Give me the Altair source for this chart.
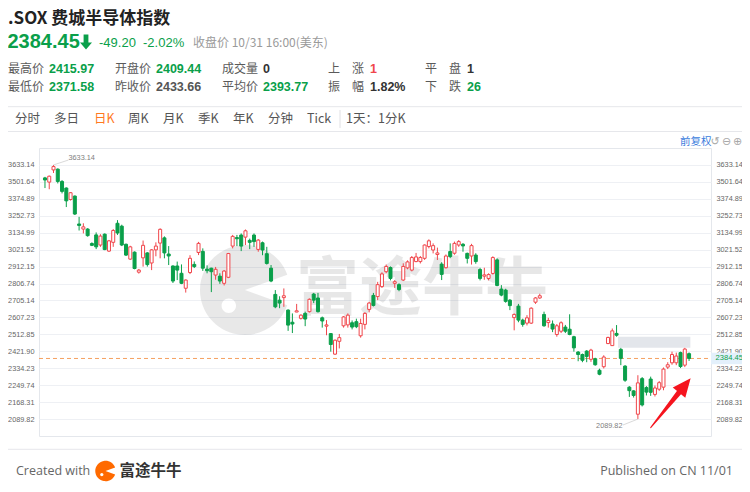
import math
import altair as alt
import pandas as pd

# ---------------- data ----------------
opens = [3532, 3500, 3594, 3600, 3505, 3455, 3370, 3395, 3195, 3160,
         3160, 3062, 3120, 3052, 3125, 3012, 3070, 3200, 3180, 3057,
         2960, 3005, 2877, 2968, 3000, 2935, 3020, 3065, 3100, 2993,
         2916, 2916, 2870, 2778, 2875, 2926, 3003, 3010, 2896, 2902,
         2859, 2852, 2808, 2845, 3045, 3102, 3119, 3105, 3083, 3119,
         3023, 3067, 2995, 2902, 2741, 2707, 2722, 2649, 2580, 2638,
         2602, 2630, 2640, 2743, 2720, 2605, 2558, 2517, 2407, 2475,
         2560, 2565, 2577, 2583, 2505, 2568, 2653, 2735, 2728, 2788,
         2880, 2906, 2808, 2800, 2828, 2904, 2890, 2944, 2944, 2965,
         3042, 3019, 2990, 2928, 2905, 3009, 2998, 3052, 3057, 2997,
         2980, 2986, 2894, 2852, 2838, 2869, 2955, 2773, 2767, 2707,
         2606, 2672, 2592, 2575, 2575, 2695, 2720, 2624, 2578, 2570,
         2512, 2530, 2553, 2541, 2500, 2418, 2405, 2423, 2380, 2383,
         2324, 2342, 2463, 2452, 2518, 2432, 2345, 2240, 2222, 2112,
         2282, 2238, 2280, 2205, 2230, 2240, 2340, 2362, 2362, 2415,
         2350, 2409.44]
highs = [3540, 3550, 3633.14, 3606, 3515, 3460, 3425, 3400, 3245, 3200,
         3166, 3070, 3137, 3125, 3130, 3086, 3160, 3222, 3190, 3062,
         3047, 3010, 2897, 3082, 3005, 3025, 3070, 3165, 3110, 3045,
         2920, 2944, 2926, 2832, 2985, 2945, 3073, 3030, 2920, 2905,
         2910, 2870, 2890, 3000, 3120, 3120, 3130, 3157, 3095, 3130,
         3092, 3075, 3040, 2922, 2767, 2730, 2777, 2653, 2630, 2685,
         2625, 2640, 2717, 2750, 2750, 2612, 2592, 2520, 2485, 2515,
         2615, 2630, 2590, 2600, 2600, 2637, 2697, 2750, 2817, 2876,
         2925, 2913, 2828, 2808, 2933, 2952, 2980, 3000, 2980, 3056,
         3090, 3063, 3035, 2940, 2990, 3063, 3075, 3085, 3065, 3002,
         3060, 2998, 2905, 2905, 2870, 2978, 2965, 2797, 2775, 2713,
         2630, 2685, 2600, 2620, 2665, 2725, 2745, 2640, 2605, 2590,
         2570, 2585, 2565, 2625, 2505, 2423, 2410, 2428, 2435, 2388,
         2332, 2401, 2500, 2545, 2564, 2440, 2350, 2245, 2225, 2299,
         2290, 2245, 2292, 2248, 2270, 2338, 2365, 2420, 2415, 2420,
         2440, 2415.97]
lows = [3455, 3446, 3570, 3490, 3415, 3315, 3362, 3258, 3150, 3130,
        3108, 3045, 3025, 3040, 3018, 3006, 3040, 3120, 3045, 2980,
        2955, 2895, 2868, 2912, 2912, 2890, 2978, 2965, 2965, 2922,
        2810, 2828, 2803, 2752, 2865, 2903, 2986, 2885, 2870, 2755,
        2830, 2805, 2795, 2840, 3030, 3045, 3012, 3052, 3025, 3040,
        3008, 2985, 2925, 2815, 2660, 2660, 2668, 2532, 2520, 2637,
        2595, 2558, 2635, 2690, 2635, 2550, 2508, 2420, 2403, 2437,
        2550, 2550, 2540, 2547, 2495, 2540, 2636, 2670, 2707, 2780,
        2870, 2826, 2780, 2760, 2822, 2895, 2882, 2940, 2932, 2955,
        3030, 2997, 2954, 2828, 2900, 2966, 2988, 3040, 3008, 2932,
        2925, 2930, 2826, 2830, 2826, 2862, 2790, 2730, 2692, 2649,
        2535, 2580, 2555, 2562, 2570, 2685, 2715, 2555, 2550, 2525,
        2500, 2520, 2520, 2508, 2420, 2370, 2365, 2365, 2367, 2347,
        2299, 2333, 2460, 2450, 2500, 2350, 2266, 2193, 2190, 2089.82,
        2148, 2200, 2198, 2195, 2222, 2225, 2330, 2352, 2350, 2335,
        2340, 2371.58]
closes = [3516, 3545, 3620, 3505, 3430, 3360, 3420, 3265, 3185, 3175,
          3115, 3050, 3040, 3112, 3022, 3080, 3150, 3133, 3052, 2986,
          3040, 2900, 2890, 3050, 2925, 3020, 3045, 3158, 3000, 2980,
          2822, 2890, 2808, 2828, 2965, 2912, 3063, 2902, 2886, 2880,
          2895, 2822, 2884, 2996, 3110, 3094, 3045, 3148, 3070, 3075,
          3085, 3019, 2932, 2822, 2668, 2690, 2733, 2564, 2570, 2645,
          2620, 2598, 2712, 2707, 2640, 2587, 2565, 2458, 2481, 2495,
          2610, 2620, 2553, 2555, 2573, 2630, 2690, 2676, 2800, 2866,
          2913, 2838, 2818, 2770, 2913, 2942, 2970, 2974, 2970, 3052,
          3080, 3048, 3000, 2863, 2980, 2976, 3063, 3075, 3046, 2965,
          3048, 2944, 2838, 2860, 2862, 2970, 2795, 2737, 2700, 2675,
          2624, 2592, 2568, 2605, 2660, 2720, 2733, 2560, 2590, 2542,
          2560, 2577, 2530, 2512, 2440, 2405, 2375, 2395, 2428, 2352,
          2304, 2392, 2496, 2532, 2508, 2385, 2274, 2223, 2200, 2261,
          2155, 2216, 2215, 2236, 2262, 2330, 2352, 2405, 2397, 2343,
          2433.66, 2384.45]

month_ticks = [5, 25, 46, 67, 87, 110, 131]
month_labels = ["2022/04", "5", "6", "7", "8", "9", "10"]
y_ticks = [3633.14, 3501.64, 3374.89, 3252.73, 3134.99, 3021.52, 2912.15, 2806.74,
           2705.14, 2607.23, 2512.85, 2421.90, 2334.23, 2249.74, 2168.31, 2089.82]

# quote header values
last_close = 2384.45
change = -49.20
change_pct = -2.02
day_high = 2415.97
day_open = 2409.44
volume = 0
advancers = 1
unchanged = 1
day_low = 2371.58
prev_close = 2433.66
avg_price = 2393.77
amplitude = 1.82
decliners = 26

gap_index = 134                 # unfilled gap after this candle
arrow_index = [142.0, 151.3]    # annotation arrow (tail, tip)
arrow_value = [2051.0, 2282.0]

# ---------------- styles ----------------
RED = "#f0464b"
GREEN = "#0a9f4a"
ORANGE = "#f5a060"
GRID = "#eef0f4"
AXIS_GRAY = "#666666"
CJK = "Noto Sans CJK SC"
NUMF = "Liberation Sans"
AXF = 7.3
OX, OY = 39, 148   # page position of the plot's top-left corner
W, H = 672, 288

n = len(closes)
candles = pd.DataFrame({"i": list(range(n)), "open": opens, "high": highs,
                        "low": lows, "close": closes})
dummy = pd.DataFrame({"k": [0]})

ratio = y_ticks[0] / y_ticks[1]
yscale = alt.Scale(type="log", domain=[y_ticks[-1] / ratio, y_ticks[0] * ratio],
                   nice=False, zero=False)
xscale = alt.Scale(domain=[-0.23, 154.97], nice=False, zero=False)

expr = "''"
for t, l in reversed(list(zip(month_ticks, month_labels))):
    expr = f"datum.value == {t} ? '{l}' : ({expr})"

xaxis = alt.Axis(values=month_ticks, labelExpr=expr, labelAlign="left", labelOffset=2,
                 labelPadding=3, labelFontSize=AXF, labelFont=NUMF, labelColor=AXIS_GRAY,
                 ticks=False, domain=False, grid=True, gridColor=GRID, labelFlush=False,
                 title=None)
yaxis_left = alt.Axis(values=y_ticks, format=".2f", orient="left", labelFontSize=AXF,
                      labelFont=NUMF, labelColor=AXIS_GRAY, ticks=False, domain=False,
                      grid=True, gridColor=GRID, labelPadding=5, title=None,
                      labelOverlap=False)
yaxis_right = alt.Axis(values=y_ticks, format=".2f", orient="right", labelFontSize=AXF,
                       labelFont=NUMF, labelColor=AXIS_GRAY, ticks=False, domain=False,
                       grid=False, labelPadding=5, title=None, labelOverlap=False)

up = "datum.close >= datum.open"


def X(field, axis=None):
    return alt.X(field, scale=xscale, axis=axis)


def Y(field, axis=None):
    return alt.Y(field, scale=yscale, axis=axis)


def txt(s, px, py, size=12, color="#555555", weight="normal", align="left",
        font=CJK, opacity=1.0):
    return alt.Chart(dummy).mark_text(
        text=s, align=align, baseline="middle", fontSize=size, color=color,
        fontWeight=weight, font=font, opacity=opacity
    ).encode(x=alt.value(px - OX), y=alt.value(py - OY))


def hline(py, x1=8, x2=742, color="#e6e7eb"):
    return alt.Chart(dummy).mark_rule(color=color, strokeWidth=1).encode(
        x=alt.value(x1 - OX), x2=alt.value(x2 - OX), y=alt.value(py - OY))


PACMAN = ("M0,0L0.94,-0.34A1,1,0,1,0,0.94,0.34Z"
          "M-0.52,0.35A0.16,0.16,0,1,1,-0.2,0.35A0.16,0.16,0,1,1,-0.52,0.35Z")

# ---------------- watermark ----------------
wm_logo = alt.Chart(dummy).mark_point(shape=PACMAN, filled=True, size=8100, color="#000000",
                                      opacity=0.09, strokeWidth=0).encode(
    x=alt.value(245 - OX), y=alt.value(290 - OY))
wm_text = txt("富途牛牛", 422, 290, size=63, color="#000000", weight="bold",
              align="center", opacity=0.09)

# ---------------- candles ----------------
gap_df = pd.DataFrame({"x0": [gap_index + 0.35], "x1": [n - 1 + 0.3],
                       "lo": [highs[gap_index + 1]], "hi": [lows[gap_index]]})
gap_box = alt.Chart(gap_df).mark_rect(color="#e3e6eb").encode(
    x=X("x0:Q"), x2="x1:Q", y=Y("lo:Q"), y2="hi:Q")

last_df = pd.DataFrame({"v": [last_close]})
dash = alt.Chart(last_df).mark_rule(strokeDash=[4, 3], color=ORANGE, strokeWidth=1).encode(
    y=Y("v:Q", yaxis_right), x=alt.value(0), x2=alt.value(W))

wicks = alt.Chart(candles).mark_rule(strokeWidth=1).encode(
    x=X("i:Q", xaxis), y=Y("low:Q", yaxis_left), y2="high:Q",
    color=alt.condition(up, alt.value(RED), alt.value(GREEN)))

bodies = alt.Chart(candles).mark_bar(size=3, strokeWidth=1).encode(
    x=X("i:Q"), y=Y("open:Q"), y2="close:Q",
    fill=alt.condition(up, alt.value("white"), alt.value(GREEN)),
    stroke=alt.condition(up, alt.value(RED), alt.value(GREEN)))

# extremes annotations
imax = highs.index(max(highs))
imin = lows.index(min(lows))
hi_df = pd.DataFrame({"i": [imax], "v": [highs[imax]]})
lo_df = pd.DataFrame({"i": [imin], "v": [lows[imin]]})
hi_rule = alt.Chart(hi_df).mark_rule(color="#cfcfcf", strokeWidth=0.8).encode(
    x=X("i:Q"), y=Y("v:Q"), x2=alt.value(68.5 - OX), y2=alt.value(160 - OY))
hi_text = alt.Chart(hi_df).mark_text(align="left", baseline="middle", fontSize=AXF,
                                     font=NUMF, color="#808080").encode(
    x=alt.value(68.5 - OX), y=alt.value(158.3 - OY), text=alt.Text("v:Q", format=".2f"))
lo_rule = alt.Chart(lo_df).mark_rule(color="#cfcfcf", strokeWidth=0.8).encode(
    x=X("i:Q"), y=Y("v:Q"), x2=alt.value(623 - OX), y2=alt.value(425 - OY))
lo_text = alt.Chart(lo_df).mark_text(align="right", baseline="middle", fontSize=AXF,
                                     font=NUMF, color="#808080").encode(
    x=alt.value(622.5 - OX), y=alt.value(425.7 - OY), text=alt.Text("v:Q", format=".2f"))

# last price tag on right axis
tag_box = alt.Chart(last_df).mark_point(shape="M-1,-0.36H1V0.36H-1Z", filled=True, size=1024,
                                        color="#e3f0fb", opacity=1, strokeWidth=0).encode(
    x=alt.value(727 - OX), y=Y("v:Q"))
tag_text = alt.Chart(last_df).mark_text(align="left", baseline="middle", fontSize=AXF + 0.3,
                                        font=NUMF, color=GREEN).encode(
    x=alt.value(715.5 - OX), y=Y("v:Q"), text=alt.Text("v:Q", format=".2f"))


# arrow
def along(f):
    i = arrow_index[0] + f * (arrow_index[1] - arrow_index[0])
    v = math.exp(math.log(arrow_value[0]) + f * (math.log(arrow_value[1]) - math.log(arrow_value[0])))
    return i, v


t0, t1 = along(0.0), along(0.84)
trail_df = pd.DataFrame({"i": [t0[0], t1[0]], "v": [t0[1], t1[1]], "w": [1.0, 6.0], "o": [0, 1]})
arrow_shaft = alt.Chart(trail_df).mark_trail(color="#f5141e").encode(
    x=X("i:Q"), y=Y("v:Q"), size=alt.Size("w:Q", scale=None, legend=None), order="o:Q")
hc = along(0.83)
head_df = pd.DataFrame({"i": [hc[0]], "v": [hc[1]]})
arrow_head = alt.Chart(head_df).mark_point(shape="M0,-1L0.72,0.65L-0.72,0.65Z", filled=True,
                                           size=500, angle=39, color="#f5141e", opacity=1,
                                           strokeWidth=0).encode(x=X("i:Q"), y=Y("v:Q"))

# ---------------- header ----------------
DOWN_ARROW = "M-0.32,-1H0.32V0.05H0.8L0,1L-0.8,0.05H-0.32Z"
header = [
    txt(".SOX 费城半导体指数", 8, 19, size=17, color="#222222", weight="bold"),
    txt(f"{last_close:.2f}", 7.5, 42, size=20, color=GREEN, weight="bold", font=NUMF),
    alt.Chart(dummy).mark_point(shape=DOWN_ARROW, filled=True, size=225, color=GREEN,
                                opacity=1, strokeWidth=0).encode(
        x=alt.value(86 - OX), y=alt.value(42 - OY)),
    txt(f"{change:.2f}", 99, 42.5, size=13, color=GREEN, font=NUMF),
    txt(f"{change_pct:.2f}%", 143, 42.5, size=13, color=GREEN, font=NUMF),
    txt("收盘价 10/31 16:00(美东)", 193, 42.5, size=12, color="#9a9a9a"),
]
row1, row2 = 68.7, 86.7
stats = [
    ("最高价", f"{day_high:.2f}", GREEN, 8, 49, row1),
    ("开盘价", f"{day_open:.2f}", GREEN, 115, 156, row1),
    ("成交量", f"{volume}", "#333333", 222, 263, row1),
    ("最低价", f"{day_low:.2f}", GREEN, 8, 49, row2),
    ("昨收价", f"{prev_close:.2f}", "#555555", 115, 156, row2),
    ("平均价", f"{avg_price:.2f}", GREEN, 222, 263, row2),
]
for lab, val, col, lx, vx, yy in stats:
    header.append(txt(lab, lx, yy, size=12, color="#5a5a5a"))
    header.append(txt(val, vx, yy, size=12.5, color=col, weight="bold", font=NUMF))
breadth = [
    ("上", "涨", f"{advancers}", RED, 328, row1),
    ("振", "幅", f"{amplitude:.2f}%", "#333333", 328, row2),
    ("平", "盘", f"{unchanged}", "#333333", 425, row1),
    ("下", "跌", f"{decliners}", GREEN, 425, row2),
]
for a, b, val, col, lx, yy in breadth:
    header.append(txt(a, lx, yy, size=12, color="#5a5a5a"))
    header.append(txt(b, lx + 24, yy, size=12, color="#5a5a5a"))
    header.append(txt(val, lx + 42, yy, size=12.5, color=col, weight="bold", font=NUMF))

tabs = [("分时", 15), ("多日", 54), ("日K", 94), ("周K", 128), ("月K", 163), ("季K", 198),
        ("年K", 233), ("分钟", 268), ("Tick", 307), ("1天：1分K", 346)]
for s, x in tabs:
    header.append(txt(s, x, 118.5, size=12.5, color="#ff7a1f" if s == "日K" else "#555555"))
header += [
    hline(106.7), hline(131.5),
    alt.Chart(dummy).mark_rule(color="#e0e0e4").encode(
        x=alt.value(340 - OX), y=alt.value(110 - OY), y2=alt.value(128 - OY)),
    txt("前复权", 680, 142, size=10.5, color="#3b7ddd"),
    txt("↺", 715, 142, size=11, color="#a8a8a8", align="center", font="DejaVu Sans"),
    txt("⊖", 726.5, 142, size=11, color="#a8a8a8", align="center", font="DejaVu Sans"),
    txt("⊕", 737.5, 142, size=11, color="#a8a8a8", align="center", font="DejaVu Sans"),
]

# ---------------- footer ----------------
footer = [
    hline(449.3),
    txt("Created with", 16, 471, size=12.5, color="#666666", font="Open Sans"),
    alt.Chart(dummy).mark_point(shape=PACMAN, filled=True, size=420, color="#ff6a00",
                                opacity=1, strokeWidth=0).encode(
        x=alt.value(105.5 - OX), y=alt.value(471 - OY)),
    txt("富途牛牛", 119.5, 471, size=15.5, color="#333333", weight="bold"),
    txt("Published on CN 11/01", 733, 471, size=12.5, color="#666666", align="right",
        font="Open Sans"),
]

layers = [wm_logo, wm_text, gap_box, dash, wicks, bodies, hi_rule, hi_text, lo_rule, lo_text,
          tag_box, tag_text, arrow_shaft, arrow_head] + header + footer

chart = alt.layer(*layers).resolve_axis(y="independent").properties(
    width=W, height=H,
    padding={"left": 31, "top": 140, "right": 31, "bottom": 46},
    autosize=alt.AutoSizeParams(type="none"),
    background="white",
).configure_view(stroke="#e4e7ec", strokeWidth=1)

chart.save("out.html", embed_options={"renderer": "svg", "actions": False})
